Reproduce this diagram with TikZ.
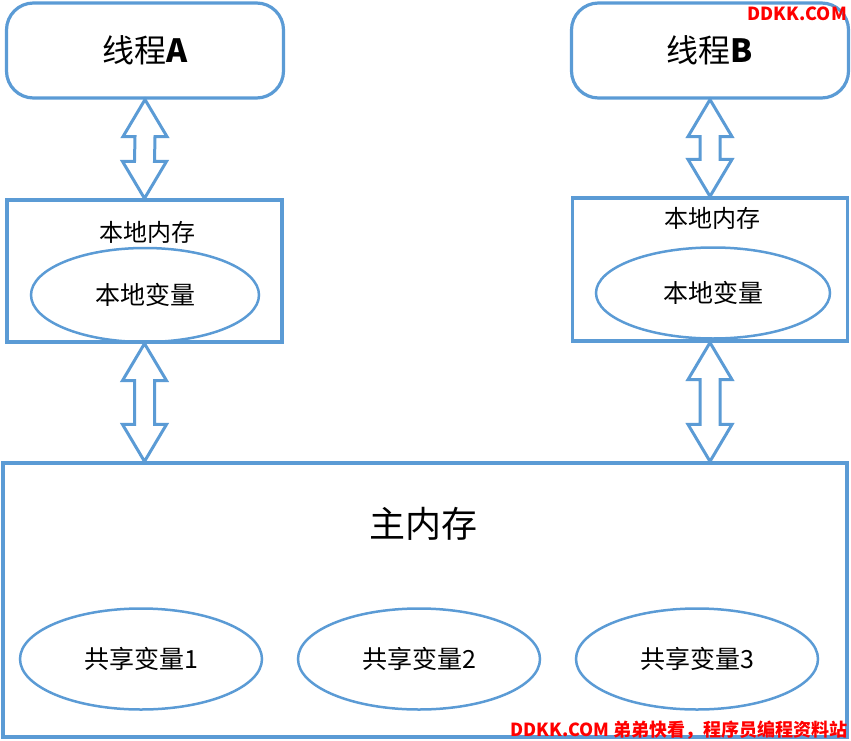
\documentclass[tikz,border=0pt]{standalone}
\usepackage{fontspec}
\setmainfont{Noto Sans CJK SC}
\definecolor{jmm_blue}{RGB}{91, 155, 213}
\definecolor{jmm_red}{RGB}{255, 0, 0}
\usetikzlibrary{positioning, shapes.geometric, calc}

% hollow double arrow between two points (units: px)
\newcommand{\twowayarrow}[2]{%
  \draw[dbl] (#1) -- ++(22,37) -- ++(-12,0) -- ($(#2)+(10,-37)$) -- ++(12,0)
    -- (#2) -- ++(-22,-37) -- ++(12,0) -- ($(#1)+(-10,37)$) -- ++(-12,0) -- cycle;}

\begin{document}
\begin{tikzpicture}[x=1pt, y=-1pt,
        thr/.style={draw=jmm_blue, line width=3.2pt, rounded corners=27pt,
                    minimum width=277pt, minimum height=95pt, inner sep=0pt,
                    font=\fontsize{32}{36}\selectfont},
        mem/.style={draw=jmm_blue, line width=3.2pt, inner sep=0pt},
        var/.style={ellipse, draw=jmm_blue, line width=2.5pt, inner sep=0pt,
                    font=\fontsize{25}{28}\selectfont},
        dbl/.style={draw=jmm_blue, line width=3pt, line join=miter},
        wm/.style={text=jmm_red, font=\bfseries\fontsize{18}{22}\selectfont, inner sep=0pt}]
    \useasboundingbox (0,0) rectangle (851,741);

    % threads
    \node[thr] (tA) at (145,50.5) {线程\textbf{A}};
    \node[thr] (tB) at (710,50.5) {线程\textbf{B}};

    % local memories
    \node[mem, minimum width=275pt, minimum height=142pt] (lA) at (144.5,271) {};
      \node[font=\fontsize{24}{26}\selectfont, inner sep=0pt] (lAt) at (147,232) {本地内存};
      \node[var, minimum width=228pt, minimum height=94pt] (vA) at (145,295) {本地变量};
    \node[mem, minimum width=275pt, minimum height=143pt] (lB) at (710,269.5) {};
      \node[font=\fontsize{24}{26}\selectfont, inner sep=0pt] (lBt) at (712,218) {本地内存};
      \node[var, minimum width=234pt, minimum height=91pt] (vB) at (713,293) {本地变量};

    % main memory
    \node[mem, minimum width=844pt, minimum height=274pt] (mm) at (425,600) {};
      \node[font=\fontsize{36}{40}\selectfont, inner sep=0pt] (mmt) at (423,524) {主内存};
      \node[var, minimum width=242pt, minimum height=101pt] (s1) at (141,659) {共享变量1};
      \node[var, minimum width=242pt, minimum height=101pt] (s2) at (419,659) {共享变量2};
      \node[var, minimum width=242pt, minimum height=101pt] (s3) at (697,659) {共享变量3};

    % arrows
    \twowayarrow{tA.south}{lA.north}
    \twowayarrow{tB.south}{lB.north}
    \coordinate (mA) at (lA.south |- mm.north);
    \coordinate (mB) at (lB.south |- mm.north);
    \twowayarrow{lA.south}{mA}
    \twowayarrow{lB.south}{mB}

    % watermarks
    \node[wm, anchor=east] (w1) at (847,14) {DDKK.COM};
    \node[wm, anchor=east] (w2) at (848,730) {DDKK.COM 弟弟快看，程序员编程资料站};
\end{tikzpicture}
\end{document}
